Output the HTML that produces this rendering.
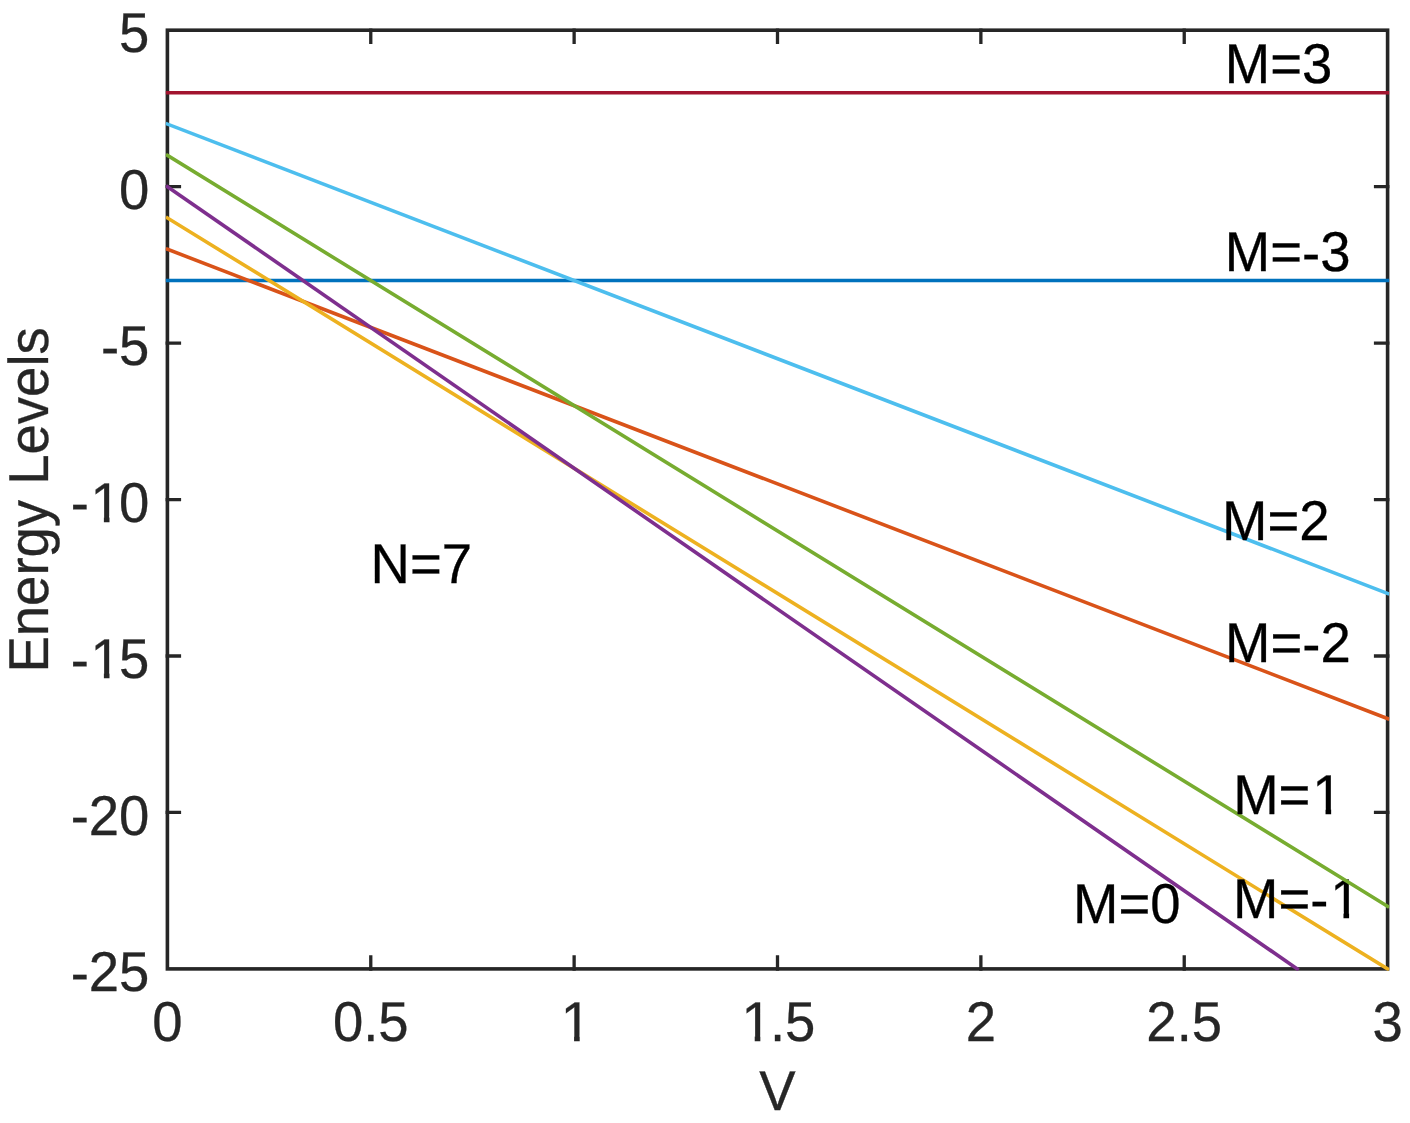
<!DOCTYPE html>
<html lang="en">
<head>
<meta charset="utf-8">
<title>Energy Levels vs V (N=7)</title>
<style>
html,body{margin:0;padding:0;background:#fff;}
body{width:1410px;height:1123px;overflow:hidden;}
svg{display:block;}
text{font-family:"Liberation Sans",Arial,Helvetica,sans-serif;font-size:54.5px;font-kerning:none;text-rendering:geometricPrecision;white-space:pre;fill:#262626;stroke:#262626;stroke-width:0.3px;}
.an{fill:#000;stroke:#000;}
.ln{fill:none;stroke-width:3.6px;stroke-linecap:square;}
</style>
</head>
<body>
<svg width="1410" height="1123" viewBox="0 0 1410 1123">
<rect x="0" y="0" width="1410" height="1123" fill="#ffffff"/>
<g stroke="#262626" fill="none" stroke-linecap="butt">
<rect x="167.4" y="30.2" width="1220.2" height="938.7" stroke-width="3.6"/>
<path d="M370.77 970.7V955.2M370.77 28.4V43.9M574.13 970.7V955.2M574.13 28.4V43.9M777.5 970.7V955.2M777.5 28.4V43.9M980.87 970.7V955.2M980.87 28.4V43.9M1184.23 970.7V955.2M1184.23 28.4V43.9M165.6 186.65H181.1M1389.4 186.65H1373.9M165.6 343.1H181.1M1389.4 343.1H1373.9M165.6 499.55H181.1M1389.4 499.55H1373.9M165.6 656H181.1M1389.4 656H1373.9M165.6 812.45H181.1M1389.4 812.45H1373.9" stroke-width="3.3"/>
</g>
<clipPath id="plotclip"><rect x="165.6" y="28.4" width="1223.8" height="942.3"/></clipPath>
<g>
<text class="an" transform="translate(370.6,583) scale(1,1.03)" x="0 39.36 71.19">N=7</text>
<path class="ln" clip-path="url(#plotclip)" d="M167.4 280.52L1387.6 280.52" stroke="#0072BD"/>
<text class="an" transform="translate(1224.8,270.9) scale(1,1.03)" x="0 45.4 77.23 95.38" y="0 0 0.78 0">M=-3</text>
<path class="ln" clip-path="url(#plotclip)" d="M167.4 249.23L1387.6 718.58" stroke="#D95319"/>
<text class="an" transform="translate(1225.1,661.8) scale(1,1.03)" x="0 45.4 77.23 95.38" y="0 0 0.78 0">M=-2</text>
<path class="ln" clip-path="url(#plotclip)" d="M167.4 217.94L1387.6 968.9" stroke="#EDB120"/>
<text class="an" transform="translate(1233,917.8) scale(1,1.03)" x="0 45.4 77.23 97.17" y="0 0 0.78 0">M=-1</text>
<g fill="#ffffff" stroke="none"><rect x="1332.73" y="912.26" width="10.75" height="7.14"/><rect x="1349.1" y="912.26" width="10.33" height="7.14"/></g>
<path class="ln" clip-path="url(#plotclip)" d="M167.4 186.65L1297.21 968.9" stroke="#7E2F8E"/>
<text class="an" transform="translate(1073,923) scale(1,1.03)" x="0 45.4 77.23">M=0</text>
<path class="ln" clip-path="url(#plotclip)" d="M167.4 155.36L1387.6 906.32" stroke="#77AC30"/>
<text class="an" transform="translate(1233.2,814.3) scale(1,1.03)" x="0 45.4 79.03">M=1</text>
<g fill="#ffffff" stroke="none"><rect x="1314.78" y="808.76" width="10.75" height="7.14"/><rect x="1331.15" y="808.76" width="10.33" height="7.14"/></g>
<path class="ln" clip-path="url(#plotclip)" d="M167.4 124.07L1387.6 593.42" stroke="#4DBEEE"/>
<text class="an" transform="translate(1222.1,539.9) scale(1,1.03)" x="0 45.4 77.23">M=2</text>
<path class="ln" clip-path="url(#plotclip)" d="M167.4 92.78L1387.6 92.78" stroke="#A2142F"/>
<text class="an" transform="translate(1224.8,83) scale(1,1.03)" x="0 45.4 77.23">M=3</text>
</g>
<g>
<text class="tk" transform="translate(167.4,1041.3) scale(1,1.03)" x="-15.16">0</text>
<text class="tk" transform="translate(370.77,1041.3) scale(1,1.03)" x="-37.88 -7.57 7.57">0.5</text>
<text class="tk" transform="translate(574.13,1041.3) scale(1,1.03)" x="-13.36">1</text>
<text class="tk" transform="translate(777.5,1041.3) scale(1,1.03)" x="-36.08 -7.57 7.57">1.5</text>
<text class="tk" transform="translate(980.87,1041.3) scale(1,1.03)" x="-15.16">2</text>
<text class="tk" transform="translate(1184.23,1041.3) scale(1,1.03)" x="-37.88 -7.57 7.57">2.5</text>
<text class="tk" transform="translate(1387.6,1041.3) scale(1,1.03)" x="-15.16">3</text>
<text class="tk" transform="translate(149.4,52.3) scale(1,1.03)" x="-30.31">5</text>
<text class="tk" transform="translate(149.4,208.75) scale(1,1.03)" x="-30.31">0</text>
<text class="tk" transform="translate(149.4,365.2) scale(1,1.03)" x="-48.46 -30.31" y="0.78 0">-5</text>
<text class="tk" transform="translate(149.4,521.65) scale(1,1.03)" x="-78.77 -58.82 -30.31" y="0.78 0 0">-10</text>
<text class="tk" transform="translate(149.4,678.1) scale(1,1.03)" x="-78.77 -58.82 -30.31" y="0.78 0 0">-15</text>
<text class="tk" transform="translate(149.4,834.55) scale(1,1.03)" x="-78.77 -60.62 -30.31" y="0.78 0 0">-20</text>
<text class="tk" transform="translate(149.4,991) scale(1,1.03)" x="-78.77 -60.62 -30.31" y="0.78 0 0">-25</text>
<text class="tk" transform="translate(777.5,1110.3) scale(1,1.03)" x="-18.18">V</text>
<text class="tk" transform="translate(48.4,499.9) rotate(-90) scale(1,1.03)" x="-172.68 -136.33 -106.02 -75.71 -57.56 -27.25 0 15.14 45.45 75.76 103.01 133.32 145.43">Energy Levels</text>
</g>
<g fill="#ffffff" stroke="none">
<rect x="563.33" y="1035.76" width="10.75" height="7.14"/>
<rect x="579.7" y="1035.76" width="10.33" height="7.14"/>
<rect x="743.97" y="1035.76" width="10.75" height="7.14"/>
<rect x="760.34" y="1035.76" width="10.33" height="7.14"/>
<rect x="93.13" y="516.11" width="10.75" height="7.14"/>
<rect x="109.5" y="516.11" width="10.33" height="7.14"/>
<rect x="93.13" y="672.56" width="10.75" height="7.14"/>
<rect x="109.5" y="672.56" width="10.33" height="7.14"/>
</g>
</svg>
</body>
</html>
